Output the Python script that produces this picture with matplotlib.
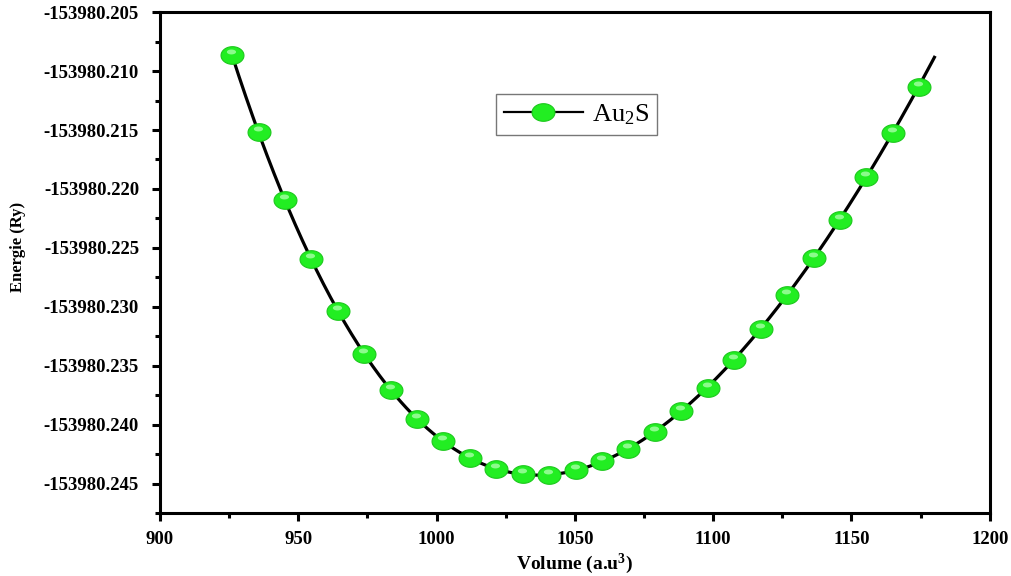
import numpy as np
import matplotlib
matplotlib.use("Agg")
import matplotlib.pyplot as plt
from matplotlib.path import Path
from matplotlib.lines import Line2D
from matplotlib.ticker import FormatStrFormatter, AutoMinorLocator

volume = [926.0, 935.8, 945.2, 954.6, 964.3, 973.7, 983.5, 992.9, 1002.3,
          1012.0, 1021.4, 1031.2, 1040.6, 1050.3, 1059.7, 1069.1, 1078.9,
          1088.3, 1098.0, 1107.4, 1117.2, 1126.6, 1136.4, 1145.8, 1155.2,
          1164.9, 1174.3]
energy = [-153980.20864, -153980.21521, -153980.22097, -153980.22597,
          -153980.23031, -153980.23396, -153980.23701, -153980.23947,
          -153980.24140, -153980.24282, -153980.24373, -153980.24421,
          -153980.24424, -153980.24381, -153980.24311, -153980.24206,
          -153980.24062, -153980.23887, -153980.23684, -153980.23449,
          -153980.23189, -153980.22898, -153980.22587, -153980.22263,
          -153980.21901, -153980.21528, -153980.21133]
fit_range = [926.0, 1180.0]
yticks = [-153980.245, -153980.240, -153980.235, -153980.230, -153980.225,
          -153980.220, -153980.215, -153980.210, -153980.205]
xticks = [900, 950, 1000, 1050, 1100, 1150, 1200]
series_label = "Au$_2$S"

plt.rcParams['font.family'] = ['Liberation Serif', 'DejaVu Serif']
plt.rcParams['mathtext.fontset'] = 'custom'
plt.rcParams['mathtext.rm'] = 'Liberation Serif'
plt.rcParams['mathtext.it'] = 'Liberation Serif:italic'
plt.rcParams['mathtext.bf'] = 'Liberation Serif:bold'

fig = plt.figure(figsize=(10.12, 5.76), dpi=100)
ax = fig.add_axes([0.158, 0.109, 0.820, 0.870])

V = np.array(volume)
E = np.array(energy)
e0 = E.min()
coef = np.polyfit(V - 1050.0, E - e0, 4)
vf = np.linspace(fit_range[0], fit_range[1], 400)
ef = np.polyval(coef, vf - 1050.0) + e0

# ellipse marker (wider than tall)
t = np.linspace(0, 2 * np.pi, 60)
ell = Path(np.column_stack([0.65 * np.cos(t), 0.5 * np.sin(t)]), closed=True)
hl_verts = np.column_stack([-0.06 + 0.26 * np.cos(t), 0.2 + 0.14 * np.sin(t)])
hl = Path(hl_verts, closed=True)
ms = 16.5
ms_hl = ms * np.max(np.abs(hl_verts)) / 0.65

ax.plot(vf, ef, color='black', lw=2.3, zorder=2)
ax.plot(V, E, linestyle='none', marker=ell, markersize=ms,
        markerfacecolor='#22ee22', markeredgecolor='#1cc81c',
        markeredgewidth=0.8, zorder=3)
ax.plot(V, E, linestyle='none', marker=hl, markersize=ms_hl,
        markerfacecolor='#a8ffa8', markeredgewidth=0, alpha=0.8, zorder=4)

handle = Line2D([], [], color='black', lw=1.6, marker=ell, markersize=ms,
                markerfacecolor='#22ee22', markeredgecolor='#1cc81c',
                markeredgewidth=0.8)
leg = ax.legend([handle], [series_label], loc='upper left',
                bbox_to_anchor=(0.405, 0.836), frameon=True, fancybox=False,
                edgecolor='#555555', prop={'size': 19}, handlelength=3.0,
                borderpad=0.3, handletextpad=0.35, borderaxespad=0)
leg.get_frame().set_linewidth(1.0)

ax.set_xlim(900, 1200)
ax.set_ylim(-153980.2475, -153980.205)
ax.set_xticks(xticks)
ax.set_yticks(yticks)
ax.yaxis.set_major_formatter(FormatStrFormatter('%.3f'))
ax.xaxis.set_minor_locator(AutoMinorLocator(2))
ax.yaxis.set_minor_locator(AutoMinorLocator(2))

for s in ax.spines.values():
    s.set_linewidth(2.2)
ax.tick_params(which='major', direction='out', length=6, width=2.2,
               labelsize=13.5)
ax.tick_params(axis='y', which='major', pad=9)
ax.tick_params(axis='x', which='major', pad=7)
ax.tick_params(which='minor', direction='out', length=3.5, width=2.2)
ax.tick_params(top=False, right=False, which='both')
for lab in ax.get_xticklabels() + ax.get_yticklabels():
    lab.set_fontweight('bold')

ax.set_xlabel("Volume (a.u$^{\\mathbf{3}}$)", fontsize=14, fontweight='bold')
ax.set_ylabel("Energie (Ry)", fontsize=12, fontweight='bold')
ax.xaxis.set_label_coords(0.500, -0.077)
ax.yaxis.set_label_coords(-0.161, 0.531)

fig.savefig("out.png", dpi=100)
